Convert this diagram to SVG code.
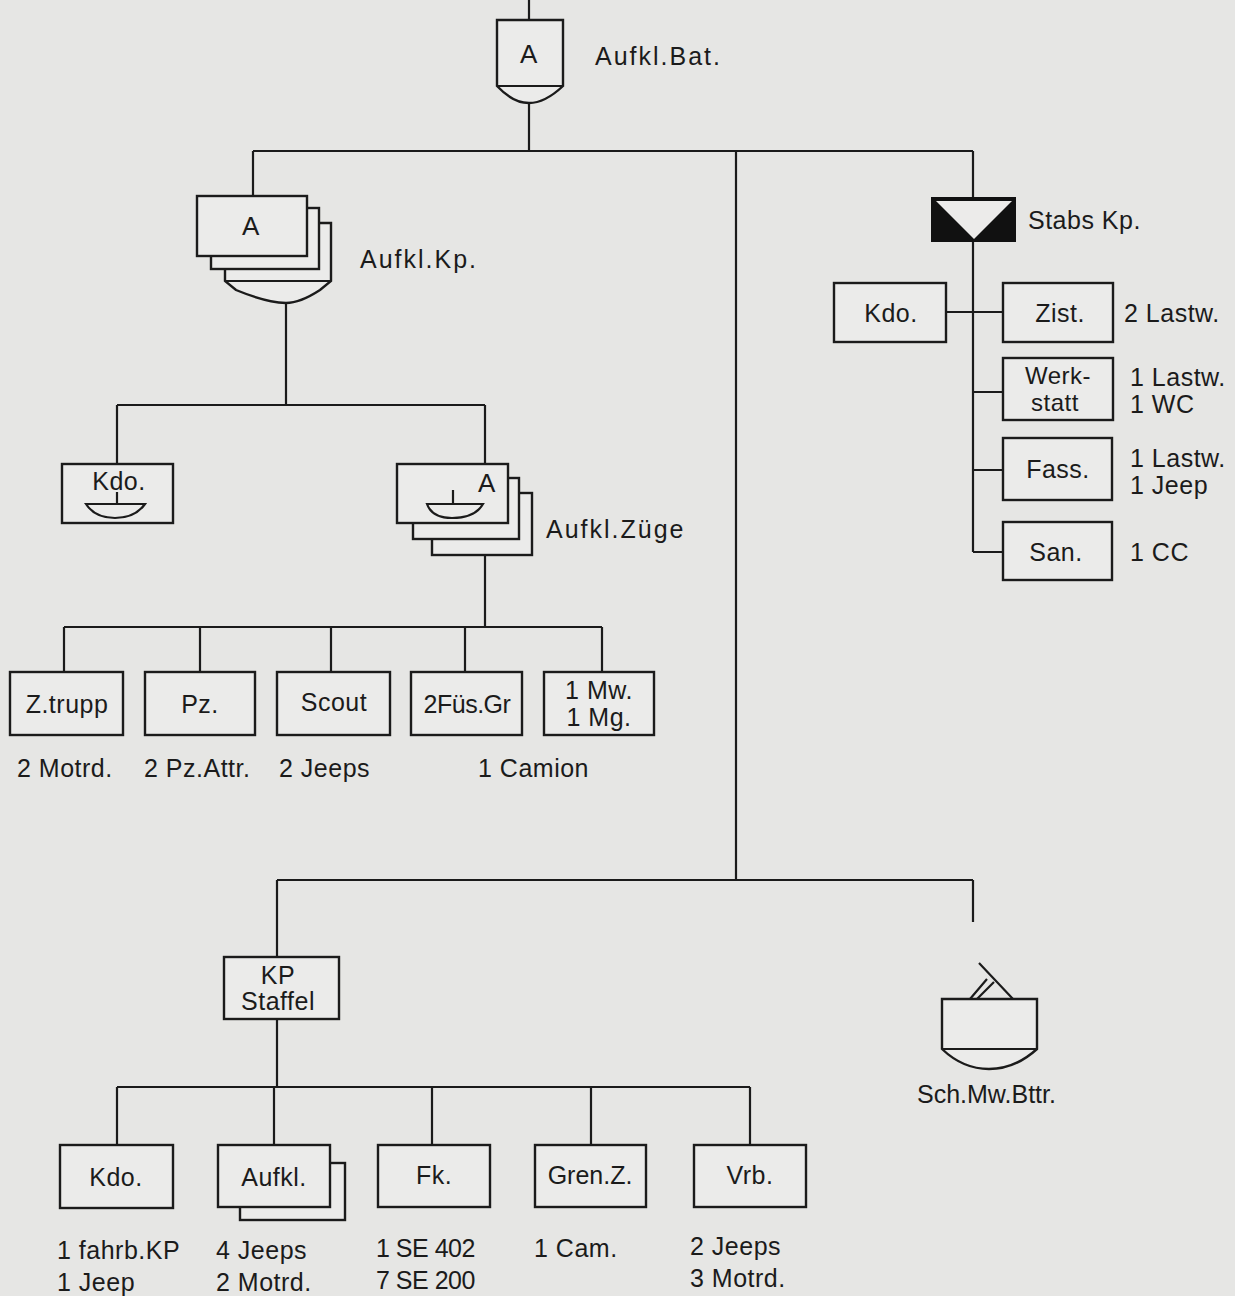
<svg xmlns="http://www.w3.org/2000/svg" width="1235" height="1296" viewBox="0 0 1235 1296">
<style>
.ln{fill:none;stroke:#1b1b1b;stroke-width:2.2;stroke-linejoin:miter}
.bx{fill:#ebebea;stroke:#1b1b1b;stroke-width:2.4}
.t{font-family:"Liberation Sans",Arial,sans-serif;font-size:25px;fill:#1b1b1b;letter-spacing:0.5px}
.c{text-anchor:middle}
.w{letter-spacing:2px}
.big{font-size:26px}
</style>
<rect x="0" y="0" width="1235" height="1296" fill="#e6e6e4"/>
<g id="connectors" class="ln">
<path d="M529 0V20M529 103V151M253 151H973M253 151V196M736 151V880M973 151V198"/>
<path d="M286 303V405M117 405H485M117 405V464M485 405V464M485 555V627"/>
<path d="M64 627H602M64 627V672M200 627V672M331 627V672M465 627V672M602 627V672"/>
<path d="M973 241V552M946 312H1003M973 392H1003M973 470H1003M973 552H1003"/>
<path d="M277 880H973M277 880V957M973 880V922M277 1019V1087M117 1087H750M117 1087V1145M274 1087V1145M432 1087V1145M591 1087V1145M750 1087V1145"/>
</g>
<g id="aufkl-bat">
<path class="bx" d="M497 20H563V86Q545 103 529 103Q513 103 497 86Z"/>
<line class="ln" x1="497" y1="86" x2="563" y2="86"/>
<text class="t c big" x="529" y="63">A</text>
<text class="t w" x="595" y="65">Aufkl.Bat.</text>
</g>
<g id="aufkl-kp">
<path class="bx" d="M225 223H331V281L320 290Q300 303 286 303Q265 302 236 290L225 281Z"/>
<line class="ln" x1="225" y1="281" x2="331" y2="281"/>
<rect class="bx" x="211" y="208" width="108" height="61"/>
<rect class="bx" x="197" y="196" width="110" height="60"/>
<text class="t c big" x="251" y="235">A</text>
<text class="t w" x="360" y="268">Aufkl.Kp.</text>
</g>
<g id="kdo-zug">
<rect class="bx" x="62" y="464" width="111" height="59"/>
<text class="t c" x="119" y="490">Kdo.</text>
<path class="ln" d="M117 492V504M86 504H145Q135 518 115 518Q95 518 86 504Z"/>
</g>
<g id="aufkl-zuege">
<rect class="bx" x="432" y="493" width="100" height="62"/>
<rect class="bx" x="413" y="478" width="106" height="61"/>
<rect class="bx" x="397" y="464" width="111" height="59"/>
<text class="t c big" x="487" y="492">A</text>
<path class="ln" d="M453 490V504M427 504H483Q475 518 452 518Q432 518 427 504Z"/>
<text class="t w" x="546" y="538">Aufkl.Züge</text>
</g>
<g id="ztrupp">
<rect class="bx" x="10" y="672" width="113" height="63"/>
<text class="t c" x="67" y="713">Z.trupp</text>
<text class="t" x="17" y="777">2 Motrd.</text>
</g>
<g id="pz">
<rect class="bx" x="145" y="672" width="110" height="63"/>
<text class="t c" x="200" y="713">Pz.</text>
<text class="t" x="144" y="777">2 Pz.Attr.</text>
</g>
<g id="scout">
<rect class="bx" x="277" y="672" width="113" height="63"/>
<text class="t c" x="334" y="711">Scout</text>
<text class="t" x="279" y="777">2 Jeeps</text>
</g>
<g id="fues">
<rect class="bx" x="411" y="672" width="111" height="63"/>
<text class="t c" x="467" y="713" style="letter-spacing:-0.5px">2Füs.Gr</text>
</g>
<g id="mw">
<rect class="bx" x="544" y="672" width="110" height="63"/>
<text class="t c" x="599" y="699">1 Mw.</text>
<text class="t c" x="599" y="726">1 Mg.</text>
<text class="t" x="478" y="777">1 Camion</text>
</g>
<g id="stabs-kp">
<rect x="932" y="198" width="83" height="43" fill="#111" stroke="#111" stroke-width="2"/>
<path d="M936 201H1012L974 239Z" fill="#ecebea"/>
<text class="t" x="1028" y="229">Stabs Kp.</text>
</g>
<g id="kdo-stab">
<rect class="bx" x="834" y="283" width="112" height="59"/>
<text class="t c" x="891" y="322">Kdo.</text>
</g>
<g id="zist">
<rect class="bx" x="1003" y="283" width="110" height="59"/>
<text class="t c" x="1060" y="322">Zist.</text>
<text class="t" x="1124" y="322">2 Lastw.</text>
</g>
<g id="werkstatt">
<rect class="bx" x="1003" y="358" width="110" height="62"/>
<text class="t c" x="1058" y="384" style="font-size:24px">Werk-</text>
<text class="t c" x="1055" y="411" style="font-size:24px">statt</text>
<text class="t" x="1130" y="386">1 Lastw.</text>
<text class="t" x="1130" y="413">1 WC</text>
</g>
<g id="fass">
<rect class="bx" x="1003" y="438" width="109" height="62"/>
<text class="t c" x="1058" y="478">Fass.</text>
<text class="t" x="1130" y="467">1 Lastw.</text>
<text class="t" x="1130" y="494">1 Jeep</text>
</g>
<g id="san">
<rect class="bx" x="1003" y="522" width="109" height="58"/>
<text class="t c" x="1056" y="561">San.</text>
<text class="t" x="1130" y="561">1 CC</text>
</g>
<g id="kp-staffel">
<rect class="bx" x="224" y="957" width="115" height="62"/>
<text class="t c" x="278" y="984">KP</text>
<text class="t c" x="278" y="1010">Staffel</text>
</g>
<g id="sch-mw-bttr">
<path class="bx" d="M942 999H1037V1049Q1015 1069 989 1069Q963 1069 942 1049Z"/>
<line class="ln" x1="942" y1="1049" x2="1037" y2="1049"/>
<path class="ln" d="M979 963L1013 999M970 999L987 979M977 999L994 982"/>
<text class="t" x="917" y="1103" style="letter-spacing:0px">Sch.Mw.Bttr.</text>
</g>
<g id="kdo-kp">
<rect class="bx" x="60" y="1145" width="113" height="63"/>
<text class="t c" x="116" y="1186">Kdo.</text>
<text class="t" x="57" y="1259">1 fahrb.KP</text>
<text class="t" x="57" y="1291">1 Jeep</text>
</g>
<g id="aufkl-staffel">
<rect class="bx" x="240" y="1163" width="105" height="57"/>
<rect class="bx" x="218" y="1145" width="112" height="62"/>
<text class="t c" x="274" y="1186">Aufkl.</text>
<text class="t" x="216" y="1259">4 Jeeps</text>
<text class="t" x="216" y="1291">2 Motrd.</text>
</g>
<g id="fk">
<rect class="bx" x="378" y="1145" width="112" height="62"/>
<text class="t c" x="434" y="1184">Fk.</text>
<text class="t" x="376" y="1257" style="letter-spacing:-0.5px">1 SE 402</text>
<text class="t" x="376" y="1289" style="letter-spacing:-0.5px">7 SE 200</text>
</g>
<g id="gren">
<rect class="bx" x="535" y="1145" width="111" height="62"/>
<text class="t c" x="590" y="1184" style="letter-spacing:0px">Gren.Z.</text>
<text class="t" x="534" y="1257">1 Cam.</text>
</g>
<g id="vrb">
<rect class="bx" x="694" y="1145" width="112" height="62"/>
<text class="t c" x="750" y="1184">Vrb.</text>
<text class="t" x="690" y="1255">2 Jeeps</text>
<text class="t" x="690" y="1287">3 Motrd.</text>
</g>
</svg>
